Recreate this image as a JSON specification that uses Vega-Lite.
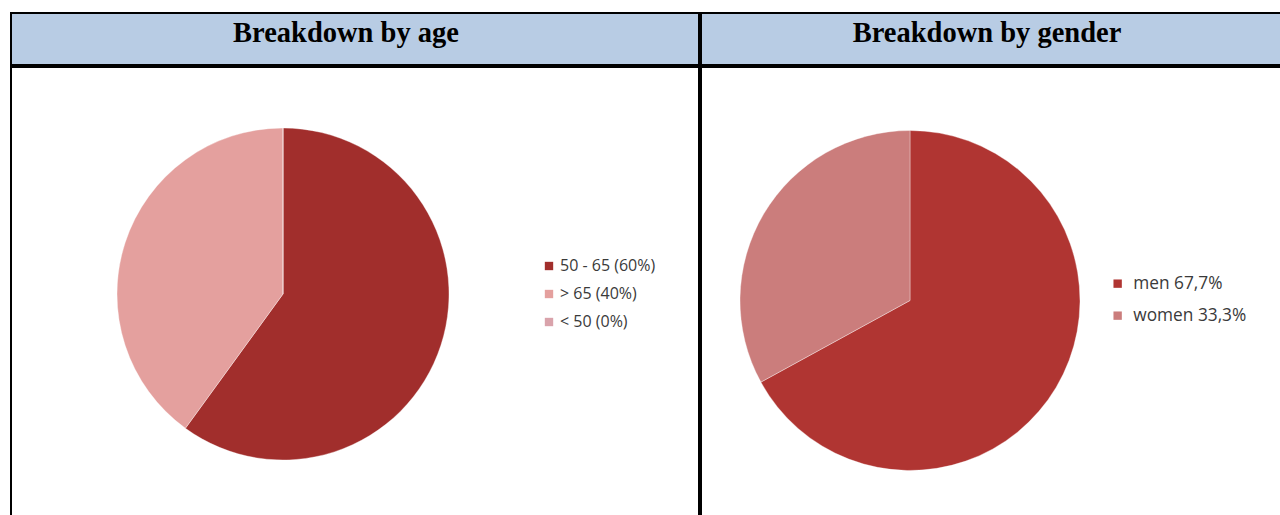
{
  "$schema": "https://vega.github.io/schema/vega-lite/v6.json",
  "padding": {"left": 10, "top": 12, "right": 0, "bottom": 0},
  "spacing": 0,
  "background": "white",
  "resolve": {"scale": {"color": "independent"}, "legend": {"color": "independent"}},
  "config": {
    "view": {"stroke": "black", "strokeWidth": 2},
    "concat": {"spacing": 0},
    "legend": {
      "title": null,
      "orient": "none",
      "labelFont": "Open Sans",
      "labelColor": "#3a3a3a",
      "symbolType": "square",
      "symbolStrokeWidth": 0
    }
  },
  "datasets": {
    "headers": [
      {"col": "age", "title": "Breakdown by age"},
      {"col": "gender", "title": "Breakdown by gender"}
    ],
    "age": [
      {"group": "50 - 65 (60%)", "value": 60, "i": 1},
      {"group": "> 65 (40%)", "value": 40, "i": 2},
      {"group": "< 50 (0%)", "value": 0, "i": 3}
    ],
    "gender": [
      {"group": "men 67,7%", "value": 67.7, "i": 1},
      {"group": "women 33,3%", "value": 33.3, "i": 2}
    ]
  },
  "hconcat": [
    {
      "spacing": 0,
      "resolve": {"scale": {"color": "independent"}, "legend": {"color": "independent"}},
      "vconcat": [
        {
          "width": 688,
          "height": 52,
          "view": {"fill": "#b8cce4", "stroke": "black", "strokeWidth": 2},
          "data": {"name": "headers"},
          "transform": [{"filter": "datum.col === 'age'"}],
          "mark": {"type": "text", "font": "Liberation Serif", "fontWeight": "bold", "fontSize": 28.5, "color": "black", "baseline": "alphabetic", "dy": 3, "dx": -9},
          "encoding": {"text": {"field": "title", "type": "nominal"}}
        },
        {
          "width": 688,
          "height": 452,
          "view": {"stroke": "black", "strokeWidth": 2},
          "data": {"name": "age"},
          "mark": {"type": "arc", "radius": 166, "xOffset": -72, "yOffset": 1, "stroke": "#ffffff", "strokeOpacity": 0.35, "strokeWidth": 1},
          "encoding": {
            "theta": {"field": "value", "type": "quantitative", "stack": true},
            "order": {"field": "i", "type": "quantitative"},
            "color": {
              "field": "group",
              "type": "nominal",
              "sort": null,
              "scale": {"range": ["#a12e2c", "#e4a09e", "#d9a3ab"]},
              "legend": {"legendX": 530, "legendY": 191, "labelFontSize": 16, "rowPadding": 12, "labelOffset": 3, "symbolSize": 70}
            }
          }
        }
      ]
    },
    {
      "spacing": 0,
      "resolve": {"scale": {"color": "independent"}, "legend": {"color": "independent"}},
      "vconcat": [
        {
          "width": 582,
          "height": 52,
          "view": {"fill": "#b8cce4", "stroke": "black", "strokeWidth": 2},
          "data": {"name": "headers"},
          "transform": [{"filter": "datum.col === 'gender'"}],
          "mark": {"type": "text", "font": "Liberation Serif", "fontWeight": "bold", "fontSize": 28.5, "color": "black", "baseline": "alphabetic", "dy": 3, "dx": -5},
          "encoding": {"text": {"field": "title", "type": "nominal"}}
        },
        {
          "width": 582,
          "height": 452,
          "view": {"stroke": "black", "strokeWidth": 2},
          "data": {"name": "gender"},
          "mark": {"type": "arc", "radius": 170, "xOffset": -82, "yOffset": 7.5, "stroke": "#ffffff", "strokeOpacity": 0.35, "strokeWidth": 1},
          "encoding": {
            "theta": {"field": "value", "type": "quantitative", "stack": true},
            "order": {"field": "i", "type": "quantitative"},
            "color": {
              "field": "group",
              "type": "nominal",
              "sort": null,
              "scale": {"range": ["#b03532", "#cb7d7c"]},
              "legend": {"legendX": 408, "legendY": 208, "labelFontSize": 17.3, "rowPadding": 14, "labelOffset": 7, "symbolSize": 70}
            }
          }
        }
      ]
    }
  ]
}
